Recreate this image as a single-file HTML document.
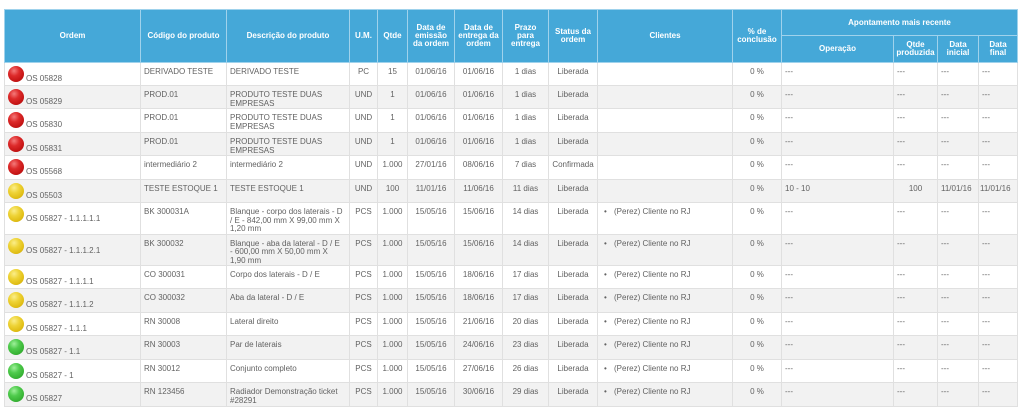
<!DOCTYPE html>
<html>
<head>
<meta charset="utf-8">
<style>
  html,body{margin:0;padding:0;background:#fff;width:1024px;height:412px;overflow:hidden;}
  table{position:absolute;left:4px;top:9px;width:1013px;table-layout:fixed;border-collapse:collapse;
        font-family:"Liberation Sans",Arial,sans-serif;}
  th{background:#45a8d8;color:#fff;font-weight:bold;font-size:8px;line-height:8px;text-align:center;
     vertical-align:middle;border:1px solid #9fd2ec;padding:0 1px;}
  td{font-size:8px;line-height:8.5px;color:#626262;vertical-align:top;padding:5px 3px 0 3px;
     border:1px solid #e0e0e0;white-space:nowrap;overflow:hidden;}
  tr.g td{background:#f2f2f2;}
  td.c{text-align:center;padding-left:1px;padding-right:1px;}
  td.o{position:relative;padding:0;}
  .dot{position:absolute;left:3px;top:3px;width:16px;height:16px;border-radius:50%;}
  .r{background:radial-gradient(circle at 38% 30%,#f47a7a 0%,#dd2a2a 35%,#c41414 70%,#9a0c0c 100%);}
  .y{background:radial-gradient(circle at 38% 30%,#fbee8a 0%,#eed336 35%,#e0bd14 70%,#b8960a 100%);}
  .gr{background:radial-gradient(circle at 38% 30%,#9ef09a 0%,#4fcb4c 35%,#37b234 70%,#25901f 100%);}
  .ot{position:absolute;left:21px;top:11px;line-height:9px;white-space:nowrap;}
  .b{display:inline-block;width:10px;padding-left:3px;}
</style>
</head>
<body>
<table>
<colgroup>
<col style="width:136px"><col style="width:86px"><col style="width:123px"><col style="width:28px">
<col style="width:30px"><col style="width:47px"><col style="width:48px"><col style="width:46px">
<col style="width:49px"><col style="width:135px"><col style="width:49px"><col style="width:112px">
<col style="width:44px"><col style="width:41px"><col style="width:39px">
</colgroup>
<tr style="height:26px">
<th rowspan="2">Ordem</th>
<th rowspan="2">Código do produto</th>
<th rowspan="2">Descrição do produto</th>
<th rowspan="2">U.M.</th>
<th rowspan="2">Qtde</th>
<th rowspan="2">Data de<br>emissão<br>da ordem</th>
<th rowspan="2">Data de<br>entrega da<br>ordem</th>
<th rowspan="2">Prazo<br>para<br>entrega</th>
<th rowspan="2">Status da<br>ordem</th>
<th rowspan="2">Clientes</th>
<th rowspan="2">% de<br>conclusão</th>
<th colspan="4">Apontamento mais recente</th>
</tr>
<tr style="height:27px">
<th>Operação</th>
<th>Qtde<br>produzida</th>
<th>Data<br>inicial</th>
<th>Data<br>final</th>
</tr>

<tr style="height:23px">
<td class="o"><span class="dot r"></span><span class="ot">OS 05828</span></td>
<td>DERIVADO TESTE</td><td>DERIVADO TESTE</td><td class="c">PC</td><td class="c">15</td>
<td class="c">01/06/16</td><td class="c">01/06/16</td><td class="c">1 dias</td><td class="c">Liberada</td>
<td></td><td class="c">0 %</td><td>---</td><td>---</td><td>---</td><td>---</td>
</tr>
<tr class="g" style="height:23px">
<td class="o"><span class="dot r"></span><span class="ot">OS 05829</span></td>
<td>PROD.01</td><td>PRODUTO TESTE DUAS<br>EMPRESAS</td><td class="c">UND</td><td class="c">1</td>
<td class="c">01/06/16</td><td class="c">01/06/16</td><td class="c">1 dias</td><td class="c">Liberada</td>
<td></td><td class="c">0 %</td><td>---</td><td>---</td><td>---</td><td>---</td>
</tr>
<tr style="height:24px">
<td class="o"><span class="dot r"></span><span class="ot">OS 05830</span></td>
<td>PROD.01</td><td>PRODUTO TESTE DUAS<br>EMPRESAS</td><td class="c">UND</td><td class="c">1</td>
<td class="c">01/06/16</td><td class="c">01/06/16</td><td class="c">1 dias</td><td class="c">Liberada</td>
<td></td><td class="c">0 %</td><td>---</td><td>---</td><td>---</td><td>---</td>
</tr>
<tr class="g" style="height:23px">
<td class="o"><span class="dot r"></span><span class="ot">OS 05831</span></td>
<td>PROD.01</td><td>PRODUTO TESTE DUAS<br>EMPRESAS</td><td class="c">UND</td><td class="c">1</td>
<td class="c">01/06/16</td><td class="c">01/06/16</td><td class="c">1 dias</td><td class="c">Liberada</td>
<td></td><td class="c">0 %</td><td>---</td><td>---</td><td>---</td><td>---</td>
</tr>
<tr style="height:24px">
<td class="o"><span class="dot r"></span><span class="ot">OS 05568</span></td>
<td>intermediário 2</td><td>intermediário 2</td><td class="c">UND</td><td class="c">1.000</td>
<td class="c">27/01/16</td><td class="c">08/06/16</td><td class="c">7 dias</td><td class="c">Confirmada</td>
<td></td><td class="c">0 %</td><td>---</td><td>---</td><td>---</td><td>---</td>
</tr>
<tr class="g" style="height:23px">
<td class="o"><span class="dot y"></span><span class="ot">OS 05503</span></td>
<td>TESTE ESTOQUE 1</td><td>TESTE ESTOQUE 1</td><td class="c">UND</td><td class="c">100</td>
<td class="c">11/01/16</td><td class="c">11/06/16</td><td class="c">11 dias</td><td class="c">Liberada</td>
<td></td><td class="c">0 %</td><td>10 - 10</td><td class="c">100</td><td>11/01/16</td><td style="padding-left:1px">11/01/16</td>
</tr>
<tr style="height:31px">
<td class="o"><span class="dot y"></span><span class="ot">OS 05827 - 1.1.1.1.1</span></td>
<td>BK 300031A</td><td>Blanque - corpo dos laterais - D<br>/ E - 842,00 mm X 99,00 mm X<br>1,20 mm</td><td class="c">PCS</td><td class="c">1.000</td>
<td class="c">15/05/16</td><td class="c">15/06/16</td><td class="c">14 dias</td><td class="c">Liberada</td>
<td><span class="b">•</span>(Perez) Cliente no RJ</td><td class="c">0 %</td><td>---</td><td>---</td><td>---</td><td>---</td>
</tr>
<tr class="g" style="height:31px">
<td class="o"><span class="dot y"></span><span class="ot">OS 05827 - 1.1.1.2.1</span></td>
<td>BK 300032</td><td>Blanque - aba da lateral - D / E<br>- 600,00 mm X 50,00 mm X<br>1,90 mm</td><td class="c">PCS</td><td class="c">1.000</td>
<td class="c">15/05/16</td><td class="c">15/06/16</td><td class="c">14 dias</td><td class="c">Liberada</td>
<td><span class="b">•</span>(Perez) Cliente no RJ</td><td class="c">0 %</td><td>---</td><td>---</td><td>---</td><td>---</td>
</tr>
<tr style="height:23px">
<td class="o"><span class="dot y"></span><span class="ot">OS 05827 - 1.1.1.1</span></td>
<td>CO 300031</td><td>Corpo dos laterais - D / E</td><td class="c">PCS</td><td class="c">1.000</td>
<td class="c">15/05/16</td><td class="c">18/06/16</td><td class="c">17 dias</td><td class="c">Liberada</td>
<td><span class="b">•</span>(Perez) Cliente no RJ</td><td class="c">0 %</td><td>---</td><td>---</td><td>---</td><td>---</td>
</tr>
<tr class="g" style="height:24px">
<td class="o"><span class="dot y"></span><span class="ot">OS 05827 - 1.1.1.2</span></td>
<td>CO 300032</td><td>Aba da lateral - D / E</td><td class="c">PCS</td><td class="c">1.000</td>
<td class="c">15/05/16</td><td class="c">18/06/16</td><td class="c">17 dias</td><td class="c">Liberada</td>
<td><span class="b">•</span>(Perez) Cliente no RJ</td><td class="c">0 %</td><td>---</td><td>---</td><td>---</td><td>---</td>
</tr>
<tr style="height:23px">
<td class="o"><span class="dot y"></span><span class="ot">OS 05827 - 1.1.1</span></td>
<td>RN 30008</td><td>Lateral direito</td><td class="c">PCS</td><td class="c">1.000</td>
<td class="c">15/05/16</td><td class="c">21/06/16</td><td class="c">20 dias</td><td class="c">Liberada</td>
<td><span class="b">•</span>(Perez) Cliente no RJ</td><td class="c">0 %</td><td>---</td><td>---</td><td>---</td><td>---</td>
</tr>
<tr class="g" style="height:24px">
<td class="o"><span class="dot gr"></span><span class="ot">OS 05827 - 1.1</span></td>
<td>RN 30003</td><td>Par de laterais</td><td class="c">PCS</td><td class="c">1.000</td>
<td class="c">15/05/16</td><td class="c">24/06/16</td><td class="c">23 dias</td><td class="c">Liberada</td>
<td><span class="b">•</span>(Perez) Cliente no RJ</td><td class="c">0 %</td><td>---</td><td>---</td><td>---</td><td>---</td>
</tr>
<tr style="height:23px">
<td class="o"><span class="dot gr"></span><span class="ot">OS 05827 - 1</span></td>
<td>RN 30012</td><td>Conjunto completo</td><td class="c">PCS</td><td class="c">1.000</td>
<td class="c">15/05/16</td><td class="c">27/06/16</td><td class="c">26 dias</td><td class="c">Liberada</td>
<td><span class="b">•</span>(Perez) Cliente no RJ</td><td class="c">0 %</td><td>---</td><td>---</td><td>---</td><td>---</td>
</tr>
<tr class="g" style="height:24px">
<td class="o"><span class="dot gr"></span><span class="ot">OS 05827</span></td>
<td>RN 123456</td><td>Radiador Demonstração ticket<br>#28291</td><td class="c">PCS</td><td class="c">1.000</td>
<td class="c">15/05/16</td><td class="c">30/06/16</td><td class="c">29 dias</td><td class="c">Liberada</td>
<td><span class="b">•</span>(Perez) Cliente no RJ</td><td class="c">0 %</td><td>---</td><td>---</td><td>---</td><td>---</td>
</tr>
</table>
</body>
</html>
